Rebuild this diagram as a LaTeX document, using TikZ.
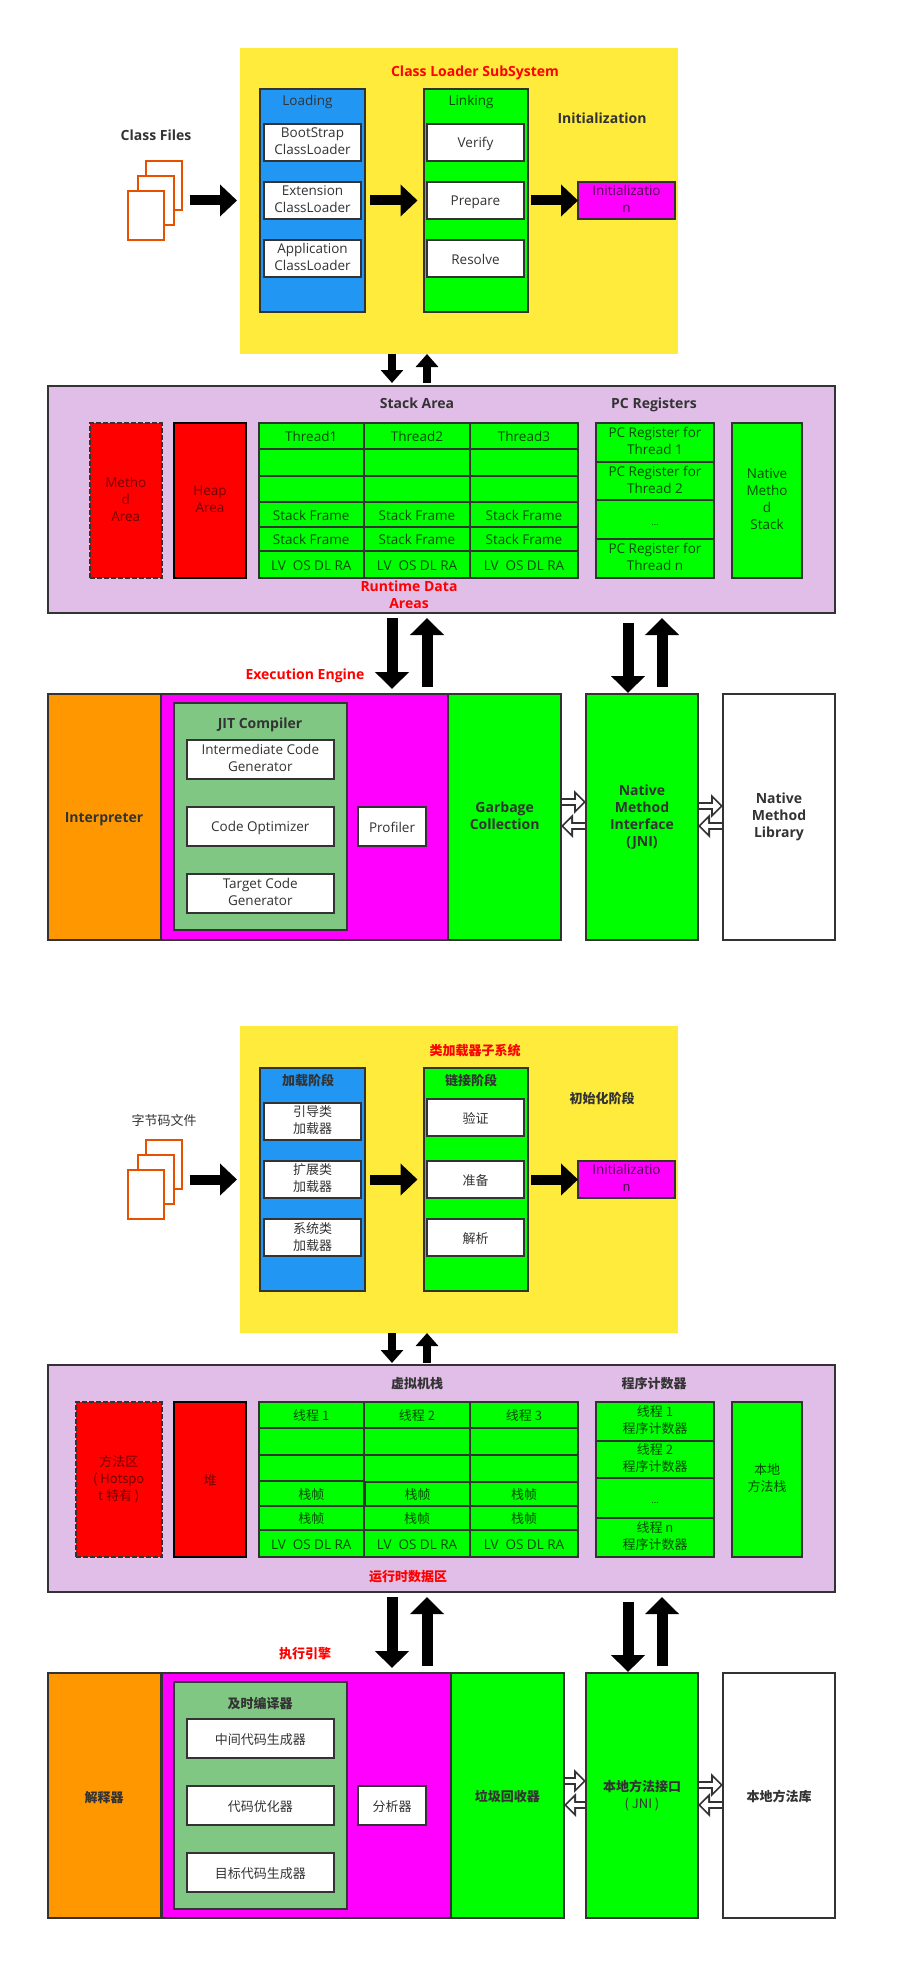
\documentclass[tikz,border=0pt]{standalone}
\usepackage{fontspec}
\setmainfont{Open Sans}
\newfontfamily\cjk{Noto Sans CJK SC}
\usetikzlibrary{arrows.meta}

\definecolor{subyellow}{HTML}{FFEB3B}
\definecolor{stageblue}{HTML}{2196F3}
\definecolor{lilac}{HTML}{E1BEE7}
\definecolor{jitgreen}{HTML}{81C784}
\definecolor{engineorange}{HTML}{FF9800}
\definecolor{enginepink}{HTML}{FF00FF}
\definecolor{docorange}{HTML}{E65100}
\definecolor{linegray}{HTML}{333333}

\tikzset{
    wh/.style 2 args={minimum width=#1,minimum height=#2},
    textstrut/.style={execute at begin node=\rule{0pt}{14pt}, execute at end node=\rule[-3pt]{0pt}{3pt}},
    basebox/.style={draw=linegray, line width=2pt, inner sep=0pt, outer sep=0pt, align=center,
        text=linegray, font=\fontsize{13.5}{17}\selectfont, textstrut},
    whitebox/.style={basebox, fill=white},
    greenbox/.style={basebox, fill=green, text=green!30!black},
    bluebox/.style={basebox, fill=stageblue},
    pinkbox/.style={basebox, fill=enginepink, text=enginepink!30!black},
    redbox/.style={basebox, fill=red, text=red!45!black},
    boldbox/.style={font=\fontsize{14}{17}\selectfont\bfseries, text=linegray},
    docpage/.style={draw=docorange, fill=white, line width=1.5pt, inner sep=0pt, outer sep=0pt, minimum width=36pt, minimum height=49pt},
    plaintag/.style={inner sep=0pt, align=center, text=linegray, font=\fontsize{13.5}{17}\selectfont, textstrut},
    boldtag/.style={inner sep=0pt, align=center, text=linegray, font=\fontsize{14}{17}\selectfont\bfseries, textstrut},
    redtag/.style={inner sep=0pt, align=center, text=red, font=\fontsize{14}{17}\selectfont\bfseries, textstrut},
    sidearrow/.style={line width=10pt, black, -{Triangle[width=31pt,length=17pt]}},
    smallarrow/.style={line width=8pt, black, -{Triangle[width=22pt,length=13pt]}},
    bigarrow/.style={line width=11pt, black, -{Triangle[width=33pt,length=17pt]}},
    hollowarrow/.style={line width=8.5pt, draw=linegray, -{Triangle[width=23pt,length=12pt]},
        postaction={draw=white, line width=4.5pt, -{Triangle[width=14pt,length=7.5pt,fill=white]}, shorten >=2.5pt, shorten <=1pt}},
}

\begin{document}
\begin{tikzpicture}[x=1pt,y=-1pt]
    \useasboundingbox (0,0) rectangle (897,1980);

    % english part
    \node[basebox, draw=none, fill=subyellow, wh={438pt}{306pt}] (yellow) at (459,201) {};
    \node[redtag] (yellowtitle) at (475,71) {Class Loader SubSystem};
    \node[bluebox, wh={105pt}{223pt}] (loading) at (312.5,200.5) {};
    \node[plaintag] (loadingtag) at (307.5,100.5) {Loading};
    \node[whitebox, wh={97pt}{37pt}] (bootstrap) at (312.5,142.5) {BootStrap\\ClassLoader};
    \node[whitebox, wh={97pt}{37pt}] (extension) at (312.5,200.5) {Extension\\ClassLoader};
    \node[whitebox, wh={97pt}{37pt}] (application) at (312.5,258.5) {Application\\ClassLoader};
    \node[greenbox, wh={104.5pt}{223pt}] (linking) at (475.75,200.5) {};
    \node[plaintag, text=green!30!black] (linkingtag) at (471,100.5) {Linking};
    \node[whitebox, wh={97pt}{37pt}] (verify) at (475.5,142.5) {Verify};
    \node[whitebox, wh={97pt}{37pt}] (prepare) at (475.5,200.5) {Prepare};
    \node[whitebox, wh={97pt}{37pt}] (resolve) at (475.5,258.5) {Resolve};
    \node[boldtag] (inittag) at (602,118) {Initialization};
    \node[pinkbox, wh={97pt}{37pt}] (init) at (626.5,200.5) {Initializatio\\n};

    \node[boldtag] (classfiles) at (156,135) {Class Files};
    \node[docpage] (fileback) at (164,185.5) {};
    \node[docpage] (filemid) at (156,200.5) {};
    \node[docpage] (filefront) at (146,215.5) {};

    \draw[sidearrow, shorten <=7.5pt, shorten >=3pt] (fileback.east |- prepare) -- (yellow.west |- prepare);
    \draw[sidearrow, shorten <=5pt, shorten >=6pt] (loading.east |- prepare) -- (linking.west |- prepare);
    \draw[sidearrow, shorten <=3pt] (linking.east |- init) -- (init.west);

    \node[basebox, fill=lilac, wh={787pt}{227pt}] (lilac) at (441.5,499.5) {};
    \node[boldtag] (stacktag) at (417,403) {Stack Area};
    \node[boldtag] (pctag) at (654,403) {PC Registers};
    \node[redbox, dashed, dash pattern=on 5pt off 2pt, wh={71.5pt}{155pt}] (method) at (125.75,500.5) {Metho\\d\\Area};
    \node[redbox, draw=black, line width=2.5pt, wh={72pt}{155pt}] (heap) at (210,500.5) {Heap\\Area};
    \node[greenbox, wh={105.5pt}{26pt}] (threada) at (311.25,436) {Thread1};
    \node[greenbox, wh={106pt}{26pt}] (threadb) at (417,436) {Thread2};
    \node[greenbox, wh={108pt}{26pt}] (threadc) at (524,436) {Thread3};
    \node[greenbox, wh={105.5pt}{27pt}] (emptya) at (311.25,462.5) {};
    \node[greenbox, wh={106pt}{27pt}] (emptyb) at (417,462.5) {};
    \node[greenbox, wh={108pt}{27pt}] (emptyc) at (524,462.5) {};
    \node[greenbox, wh={105.5pt}{26pt}] (blanka) at (311.25,489) {};
    \node[greenbox, wh={106pt}{26pt}] (blankb) at (417,489) {};
    \node[greenbox, wh={108pt}{26pt}] (blankc) at (524,489) {};
    \node[greenbox, wh={105.5pt}{25pt}] (framea) at (311.25,514.5) {Stack Frame};
    \node[greenbox, wh={106pt}{25pt}] (frameb) at (417,514.5) {Stack Frame};
    \node[greenbox, wh={108pt}{25pt}] (framec) at (524,514.5) {Stack Frame};
    \node[greenbox, wh={105.5pt}{24pt}] (framed) at (311.25,539) {Stack Frame};
    \node[greenbox, wh={106pt}{24pt}] (framee) at (417,539) {Stack Frame};
    \node[greenbox, wh={108pt}{24pt}] (framef) at (524,539) {Stack Frame};
    \node[greenbox, wh={105.5pt}{27pt}] (lva) at (311.25,564.5) {LV\ \ OS DL RA};
    \node[greenbox, wh={106pt}{27pt}] (lvb) at (417,564.5) {LV\ \ OS DL RA};
    \node[greenbox, wh={108pt}{27pt}] (lvc) at (524,564.5) {LV\ \ OS DL RA};
    \node[greenbox, wh={118pt}{39pt}] (pca) at (655,442.5) {PC Register for\\Thread 1};
    \node[greenbox, wh={118pt}{38pt}] (pcb) at (655,481) {PC Register for\\Thread 2};
    \node[greenbox, wh={118pt}{39pt}] (pcc) at (655,519.5) {\fontsize{9}{11}\selectfont ...};
    \node[greenbox, wh={118pt}{39pt}] (pcn) at (655,558.5) {PC Register for\\Thread n};
    \node[greenbox, wh={70pt}{155pt}] (nativestack) at (767,500.5) {Native\\Metho\\d\\Stack};
    \node[redtag] (lilactitle) at (409,596) {Runtime Data\\Areas};

    \draw[smallarrow, shorten >=3pt] ([xshift=-67pt]yellow.south) -- ([xshift=-67pt]yellow.south |- lilac.north);
    \draw[smallarrow, shorten <=3pt] ([xshift=-32pt]yellow.south |- lilac.north) -- ([xshift=-32pt]yellow.south);

    \node[redtag] (enginetitle) at (305,674) {Execution Engine};
    \node[basebox, fill=engineorange, wh={113.4pt}{246pt}] (interp) at (104.7,817) {};
    \node[boldtag] (interptag) at (104,817) {Interpreter};
    \node[pinkbox, wh={287pt}{246pt}] (engine) at (304.9,817) {};
    \node[basebox, fill=jitgreen, wh={173pt}{227pt}] (jit) at (260.5,816.5) {};
    \node[boldtag] (jittag) at (260,723) {JIT Compiler};
    \node[whitebox, wh={146.6pt}{39pt}] (intermediate) at (260.3,759.5) {Intermediate Code\\Generator};
    \node[whitebox, wh={146.6pt}{39pt}] (optimizer) at (260.3,826.5) {Code Optimizer};
    \node[whitebox, wh={146.6pt}{39pt}] (target) at (260.3,893.5) {Target Code\\Generator};
    \node[whitebox, wh={68pt}{39pt}] (profiler) at (392,826.5) {Profiler};
    \node[greenbox, boldbox, wh={112.6pt}{246pt}] (gc) at (504.7,817) {Garbage\\Collection};
    \node[greenbox, boldbox, wh={112pt}{246pt}] (jni) at (642,817) {Native\\Method\\Interface\\(JNI)};
    \node[whitebox, boldbox, wh={112pt}{246pt}] (library) at (779,817) {Native\\Method\\Library};

    \draw[bigarrow, shorten <=5pt, shorten >=5pt] ([xshift=-49.5pt]lilac.south) -- ([xshift=-49.5pt]lilac.south |- engine.north);
    \draw[bigarrow, shorten <=7pt, shorten >=5pt] ([xshift=-14.5pt]lilac.south |- engine.north) -- ([xshift=-14.5pt]lilac.south);
    \draw[bigarrow, shorten <=10pt, shorten >=1pt] ([xshift=186.5pt]lilac.south) -- ([xshift=186.5pt]lilac.south |- jni.north);
    \draw[bigarrow, shorten <=7pt, shorten >=5pt] ([xshift=220.5pt]lilac.south |- jni.north) -- ([xshift=220.5pt]lilac.south);

    \draw[hollowarrow] ([yshift=15pt]gc.east) -- ([yshift=15pt]gc.east -| jni.west);
    \draw[hollowarrow] ([yshift=-9pt]jni.west) -- ([yshift=-9pt]jni.west -| gc.east);
    \draw[hollowarrow] ([yshift=11pt]jni.east) -- ([yshift=11pt]jni.east -| library.west);
    \draw[hollowarrow] ([yshift=-9pt]library.west) -- ([yshift=-9pt]library.west -| jni.east);

    % chinese part
    \begin{scope}[every node/.append style={execute at begin node={\cjk\fontsize{13}{17}\selectfont}}]
    \node[basebox, draw=none, fill=subyellow, wh={438pt}{307pt}] (yellowzh) at (459,1179.5) {};
    \node[redtag] (yellowtitlezh) at (475,1050) {类加载器子系统};
    \node[bluebox, wh={105pt}{223pt}] (loadingzh) at (312.5,1179.5) {};
    \node[boldtag] (loadingtagzh) at (308,1080) {加载阶段};
    \node[whitebox, wh={97pt}{37pt}] (bootstrapzh) at (312.5,1121.5) {引导类\\加载器};
    \node[whitebox, wh={97pt}{37pt}] (extensionzh) at (312.5,1179.5) {扩展类\\加载器};
    \node[whitebox, wh={97pt}{37pt}] (applicationzh) at (312.5,1237.5) {系统类\\加载器};
    \node[greenbox, wh={104.5pt}{223pt}] (linkingzh) at (475.75,1179.5) {};
    \node[boldtag] (linkingtagzh) at (471,1080) {链接阶段};
    \node[whitebox, wh={97pt}{37pt}] (verifyzh) at (475.5,1117.5) {验证};
    \node[whitebox, wh={97pt}{37pt}] (preparezh) at (475.5,1179.5) {准备};
    \node[whitebox, wh={97pt}{37pt}] (resolvezh) at (475.5,1237.5) {解析};
    \node[boldtag] (inittagzh) at (602,1098) {初始化阶段};
    \node[pinkbox, wh={97pt}{37pt}] (initzh) at (626.5,1179.5) {\rmfamily\fontsize{13.5}{17}\selectfont Initializatio\\n};

    \node[plaintag] (classfileszh) at (164,1120) {字节码文件};
    \node[docpage] (filebackzh) at (164,1164.5) {};
    \node[docpage] (filemidzh) at (156,1179.5) {};
    \node[docpage] (filefrontzh) at (146,1194.5) {};

    \draw[sidearrow, shorten <=7.5pt, shorten >=3pt] (filebackzh.east |- preparezh) -- (yellowzh.west |- preparezh);
    \draw[sidearrow, shorten <=5pt, shorten >=6pt] (loadingzh.east |- preparezh) -- (linkingzh.west |- preparezh);
    \draw[sidearrow, shorten <=3pt] (linkingzh.east |- initzh) -- (initzh.west);

    \node[basebox, fill=lilac, wh={787pt}{227pt}] (lilaczh) at (441.5,1478.5) {};
    \node[boldtag] (stacktagzh) at (417,1383) {虚拟机栈};
    \node[boldtag] (pctagzh) at (654,1383) {程序计数器};
    \node[redbox, dashed, dash pattern=on 5pt off 2pt, wh={85.5pt}{155pt}] (methodzh) at (118.75,1479.5) {方法区\\( Hotspo\\t 特有 )};
    \node[redbox, draw=black, line width=2.5pt, wh={72pt}{155pt}] (heapzh) at (210,1479.5) {堆};
    \node[greenbox, wh={105.5pt}{26pt}] (threadazh) at (311.25,1415) {线程 1};
    \node[greenbox, wh={106pt}{26pt}] (threadbzh) at (417,1415) {线程 2};
    \node[greenbox, wh={108pt}{26pt}] (threadczh) at (524,1415) {线程 3};
    \node[greenbox, wh={105.5pt}{27pt}] (emptyazh) at (311.25,1441.5) {};
    \node[greenbox, wh={106pt}{27pt}] (emptybzh) at (417,1441.5) {};
    \node[greenbox, wh={108pt}{27pt}] (emptyczh) at (524,1441.5) {};
    \node[greenbox, wh={105.5pt}{26pt}] (blankazh) at (311.25,1468) {};
    \node[greenbox, wh={106pt}{27pt}] (blankbzh) at (417,1468.5) {};
    \node[greenbox, wh={108pt}{27pt}] (blankczh) at (524,1468.5) {};
    \node[greenbox, wh={105.5pt}{25pt}] (frameazh) at (311.25,1493.5) {栈帧};
    \node[greenbox, wh={106pt}{24pt}] (framebzh) at (417.5,1494) {栈帧};
    \node[greenbox, wh={108pt}{24pt}] (frameczh) at (524,1494) {栈帧};
    \node[greenbox, wh={105.5pt}{24pt}] (framedzh) at (311.25,1518) {栈帧};
    \node[greenbox, wh={106pt}{24pt}] (frameezh) at (417,1518) {栈帧};
    \node[greenbox, wh={108pt}{24pt}] (framefzh) at (524,1518) {栈帧};
    \node[greenbox, wh={105.5pt}{27pt}] (lvazh) at (311.25,1543.5) {\rmfamily\fontsize{13.5}{17}\selectfont LV\ \ OS DL RA};
    \node[greenbox, wh={106pt}{27pt}] (lvbzh) at (417,1543.5) {\rmfamily\fontsize{13.5}{17}\selectfont LV\ \ OS DL RA};
    \node[greenbox, wh={108pt}{27pt}] (lvczh) at (524,1543.5) {\rmfamily\fontsize{13.5}{17}\selectfont LV\ \ OS DL RA};
    \node[greenbox, wh={118pt}{39pt}] (pcazh) at (655,1421.5) {线程 1\\程序计数器};
    \node[greenbox, wh={118pt}{37pt}] (pcbzh) at (655,1459.5) {线程 2\\程序计数器};
    \node[greenbox, wh={118pt}{40pt}] (pcczh) at (655,1498) {\fontsize{9}{11}\selectfont ...};
    \node[greenbox, wh={118pt}{39pt}] (pcnzh) at (655,1537.5) {线程 n\\程序计数器};
    \node[greenbox, wh={70pt}{155pt}] (nativestackzh) at (767,1479.5) {本地\\方法栈};
    \node[redtag] (lilactitlezh) at (408,1576) {运行时数据区};

    \draw[smallarrow, shorten >=2pt] ([xshift=-67pt]yellowzh.south) -- ([xshift=-67pt]yellowzh.south |- lilaczh.north);
    \draw[smallarrow, shorten <=2pt] ([xshift=-32pt]yellowzh.south |- lilaczh.north) -- ([xshift=-32pt]yellowzh.south);

    \node[redtag] (enginetitlezh) at (305,1653) {执行引擎};
    \node[basebox, fill=engineorange, wh={113.4pt}{245pt}] (interpzh) at (104.7,1795.5) {};
    \node[boldtag] (interptagzh) at (104,1797) {解释器};
    \node[pinkbox, wh={289pt}{245pt}] (enginezh) at (306,1795.5) {};
    \node[basebox, fill=jitgreen, wh={173pt}{227pt}] (jitzh) at (260.5,1795.5) {};
    \node[boldtag] (jittagzh) at (260,1703) {及时编译器};
    \node[whitebox, wh={146.6pt}{39pt}] (intermediatezh) at (260.3,1738.5) {中间代码生成器};
    \node[whitebox, wh={146.6pt}{39pt}] (optimizerzh) at (260.3,1805.5) {代码优化器};
    \node[whitebox, wh={146.6pt}{39pt}] (targetzh) at (260.3,1872.5) {目标代码生成器};
    \node[whitebox, wh={68pt}{39pt}] (profilerzh) at (392,1805.5) {分析器};
    \node[greenbox, boldbox, wh={113.5pt}{245pt}] (gczh) at (507.25,1795.5) {垃圾回收器};
    \node[greenbox, boldbox, wh={112pt}{245pt}] (jnizh) at (642,1795.5) {本地方法接口\\\mdseries ( JNI )};
    \node[whitebox, boldbox, wh={112pt}{245pt}] (libraryzh) at (779,1795.5) {本地方法库};

    \draw[bigarrow, shorten <=5pt, shorten >=5pt] ([xshift=-49.5pt]lilaczh.south) -- ([xshift=-49.5pt]lilaczh.south |- enginezh.north);
    \draw[bigarrow, shorten <=7pt, shorten >=5pt] ([xshift=-14.5pt]lilaczh.south |- enginezh.north) -- ([xshift=-14.5pt]lilaczh.south);
    \draw[bigarrow, shorten <=10pt, shorten >=1pt] ([xshift=186.5pt]lilaczh.south) -- ([xshift=186.5pt]lilaczh.south |- jnizh.north);
    \draw[bigarrow, shorten <=7pt, shorten >=5pt] ([xshift=220.5pt]lilaczh.south |- jnizh.north) -- ([xshift=220.5pt]lilaczh.south);

    \draw[hollowarrow] ([yshift=14.5pt]gczh.east) -- ([yshift=14.5pt]gczh.east -| jnizh.west);
    \draw[hollowarrow] ([yshift=-9.5pt]jnizh.west) -- ([yshift=-9.5pt]jnizh.west -| gczh.east);
    \draw[hollowarrow] ([yshift=10.5pt]jnizh.east) -- ([yshift=10.5pt]jnizh.east -| libraryzh.west);
    \draw[hollowarrow] ([yshift=-9.5pt]libraryzh.west) -- ([yshift=-9.5pt]libraryzh.west -| jnizh.east);
    \end{scope}

\end{tikzpicture}
\end{document}
